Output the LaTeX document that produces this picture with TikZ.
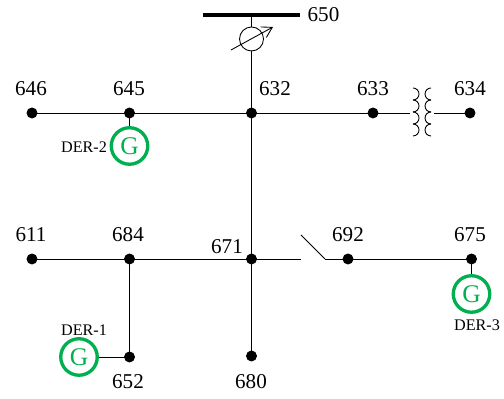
\documentclass[tikz,border=0pt]{standalone}
\usepackage{fontspec}
\setmainfont{Liberation Serif}
\usetikzlibrary{arrows.meta}
\usetikzlibrary{positioning}
\definecolor{dergreen}{RGB}{0,176,80}
\tikzset{
  buslabel/.style={inner sep=0pt,font=\fontsize{12}{13}\selectfont},
  derlabel/.style={inner sep=0pt,font=\fontsize{9.2}{10}\selectfont},
  gen/.style={circle,draw=dergreen,line width=1.9pt,text=dergreen,minimum size=0.73cm,inner sep=0pt,font=\fontsize{14.5}{15}\selectfont},
}
\begin{document}
\begin{tikzpicture}[line width=0.5pt]
            \useasboundingbox (0,0) rectangle (10.08,7.98);

            \filldraw (0.64,5.72) coordinate(n646) circle (0.1);
            \filldraw (2.59,5.72) coordinate(n645) circle (0.1);
            \filldraw (5.03,5.72) coordinate(n632) circle (0.1);
            \filldraw (7.46,5.72) coordinate(n633) circle (0.1);
            \filldraw (9.40,5.72) coordinate(n634) circle (0.1);
            \filldraw (0.64,2.80) coordinate(n611) circle (0.1);
            \filldraw (2.59,2.80) coordinate(n684) circle (0.1);
            \filldraw (5.03,2.80) coordinate(n671) circle (0.1);
            \filldraw (6.96,2.80) coordinate(n692) circle (0.1);
            \filldraw (9.43,2.80) coordinate(n675) circle (0.1);
            \filldraw (2.59,0.84) coordinate(n652) circle (0.1);
            \filldraw (5.03,0.86) coordinate(n680) circle (0.1);

            \coordinate (barl) at (4.06,7.68);
            \coordinate (barr) at (6.00,7.68);
            \coordinate (bar) at (5.03,7.68);
            \coordinate (xfl) at (8.20,5.72);
            \coordinate (xfr) at (8.68,5.72);
            \coordinate (swl) at (6.02,2.80);
            \coordinate (swt) at (6.02,3.28);
            \coordinate (swr) at (6.50,2.80);
            \coordinate (regs) at (4.62,6.98);
            \coordinate (rege) at (5.46,7.44);

            \node [circle,draw,minimum size=0.48cm,inner sep=0pt] (reg) at (5.03,7.20) {};
            \node [gen] (der2) at (2.59,5.06) {G};
            \node [gen] (der1) at (1.58,0.84) {G};
            \node [gen] (der3) at (9.43,2.10) {G};

            \draw [line width=2.3pt] (barl) -- (barr);
            \draw (bar) -- (reg);
            \draw (reg) -- (n632);
            \draw [-{Straight Barb[length=2mm,width=2.4mm]}] (regs) -- (rege);

            \draw (n646) -- (n645);
            \draw (n645) -- (n632);
            \draw (n632) -- (n633);
            \draw (n633) -- (xfl);
            \draw (xfr) -- (n634);
            \draw (n632) -- (n671);
            \draw (n671) -- (n680);
            \draw (n611) -- (n684);
            \draw (n684) -- (n671);
            \draw (n671) -- (swl);
            \draw (swt) -- (swr);
            \draw (swr) -- (n692);
            \draw (n692) -- (n675);
            \draw (n684) -- (n652);
            \draw (n645) -- (der2);
            \draw (der1) -- (n652);
            \draw (n675) -- (der3);

            % transformer coils
            \foreach \i in {0,1,2,3} {
                \draw (8.26,6.22-0.24*\i) arc (90:-90:0.12);
                \draw (8.62,6.22-0.24*\i) arc (90:270:0.12);
            }

            \node [buslabel] (l650) at (6.47,7.69) {650};
            \node [buslabel] (l646) at (0.62,6.20) {646};
            \node [buslabel] (l645) at (2.58,6.20) {645};
            \node [buslabel] (l632) at (5.50,6.20) {632};
            \node [buslabel] (l633) at (7.46,6.20) {633};
            \node [buslabel] (l634) at (9.40,6.20) {634};
            \node [buslabel] (l611) at (0.62,3.28) {611};
            \node [buslabel] (l684) at (2.56,3.28) {684};
            \node [buslabel] (l671) at (4.54,3.04) {671};
            \node [buslabel] (l692) at (6.96,3.28) {692};
            \node [buslabel] (l675) at (9.40,3.28) {675};
            \node [buslabel] (l652) at (2.56,0.34) {652};
            \node [buslabel] (l680) at (5.02,0.34) {680};

            \node [derlabel] (t2) at (1.68,5.04) {DER-2};
            \node [derlabel] (t1) at (1.68,1.38) {DER-1};
            \node [derlabel] (t3) at (9.54,1.48) {DER-3};
\end{tikzpicture}
\end{document}
